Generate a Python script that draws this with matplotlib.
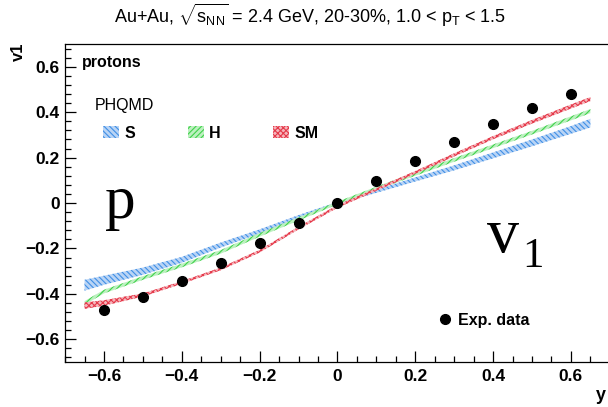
import numpy as np
import matplotlib
matplotlib.use('Agg')
import matplotlib.pyplot as plt
from matplotlib.ticker import MultipleLocator
from matplotlib.lines import Line2D

plt.rcParams['font.family'] = ['Liberation Sans', 'DejaVu Sans']
plt.rcParams['mathtext.fontset'] = 'custom'
plt.rcParams['mathtext.rm'] = 'Liberation Sans'
plt.rcParams['mathtext.it'] = 'Liberation Sans'
plt.rcParams['hatch.linewidth'] = 0.8

# Experimental data (protons, 20-30%, 1.0 < pT < 1.5)
y_data = [-0.6, -0.5, -0.4, -0.3, -0.2, -0.1, 0.0, 0.1, 0.2, 0.3, 0.4, 0.5, 0.6]
v1_data = [-0.472, -0.412, -0.342, -0.265, -0.178, -0.09, 0.0, 0.096, 0.187, 0.27, 0.35, 0.42, 0.48]
v1_err = [0.008, 0.008, 0.008, 0.008, 0.008, 0.008, 0.008, 0.01, 0.01, 0.012, 0.012, 0.012, 0.012]

# PHQMD bands
y_band = [-0.65, -0.6, -0.5, -0.4, -0.3, -0.2, -0.1, 0.0, 0.1, 0.2, 0.3, 0.4, 0.5, 0.6, 0.65]
s_mid = [-0.362, -0.34, -0.30, -0.25, -0.185, -0.125, -0.06, 0.0, 0.052, 0.104, 0.155, 0.21, 0.265, 0.322, 0.352]
s_half = [0.024, 0.02, 0.016, 0.013, 0.011, 0.009, 0.007, 0.005, 0.007, 0.009, 0.011, 0.013, 0.015, 0.017, 0.019]
h_mid = [-0.44, -0.39, -0.33, -0.275, -0.215, -0.14, -0.07, 0.0, 0.065, 0.128, 0.19, 0.25, 0.31, 0.373, 0.405]
h_half = [0.008, 0.008, 0.008, 0.008, 0.008, 0.008, 0.007, 0.006, 0.007, 0.008, 0.008, 0.008, 0.008, 0.009, 0.009]
sm_mid = [-0.452, -0.44, -0.405, -0.35, -0.29, -0.212, -0.11, -0.015, 0.06, 0.135, 0.212, 0.288, 0.358, 0.425, 0.458]
sm_half = [0.014, 0.012, 0.007, 0.006, 0.006, 0.006, 0.006, 0.006, 0.006, 0.006, 0.007, 0.007, 0.008, 0.009, 0.009]

bands = [
    ('S', s_mid, s_half, '#3f8fe6', '#b9d4f5', '\\\\\\\\\\\\'),
    ('H', h_mid, h_half, '#3fd24a', '#bdf0c0', '//////'),
    ('SM', sm_mid, sm_half, '#e5394a', '#f5b5bb', 'xxxxxx'),
]

fig = plt.figure(figsize=(6.08, 4.07), dpi=100)
ax = fig.add_axes([0.107, 0.1106, 0.896, 0.781])

handles = []
yb = np.array(y_band)
for name, mid, half, col, light, hat in bands:
    mid = np.array(mid)
    half = np.array(half)
    h = ax.fill_between(yb, mid - half, mid + half, facecolor=light, edgecolor=col,
                        hatch=hat, linewidth=0.0, label=name, zorder=2)
    handles.append(h)

ax.errorbar(y_data, v1_data, yerr=v1_err, fmt='o', color='black', markersize=7,
            elinewidth=1.0, capsize=0, zorder=5)

ax.set_xlim(-0.7, 0.7)
ax.set_ylim(-0.7, 0.7)
ax.xaxis.set_major_locator(MultipleLocator(0.2))
ax.xaxis.set_minor_locator(MultipleLocator(0.05))
ax.yaxis.set_major_locator(MultipleLocator(0.2))
ax.yaxis.set_minor_locator(MultipleLocator(0.04))
ax.tick_params(which='both', direction='in', top=False, right=False, width=0.9)
ax.tick_params(which='major', length=8, labelsize=12.5)
ax.tick_params(axis='x', which='major', pad=5)
ax.tick_params(axis='y', which='major', pad=4)
ax.tick_params(which='minor', length=4.3)
fmt = plt.FuncFormatter(lambda v, p: '0' if abs(v) < 1e-9 else f'{v:.1f}'.replace('-', '\u2212'))
ax.xaxis.set_major_formatter(fmt)
ax.yaxis.set_major_formatter(fmt)
for lab in ax.get_xticklabels() + ax.get_yticklabels():
    lab.set_fontweight('bold')
for sp in ax.spines.values():
    sp.set_linewidth(0.9)

fig.text(0.51, 0.962, r'Au+Au, $\sqrt{\mathrm{s_{NN}}}$ = 2.4 GeV, 20-30%, 1.0 < $\mathrm{p_{T}}$ < 1.5',
         ha='center', va='center', fontsize=13)
fig.text(0.03, 1 - 52 / 407, 'v1', rotation=90, ha='center', va='center',
         fontsize=12, fontweight='bold')
fig.text(0.988, 1 - 395 / 407, 'y', ha='center', va='center', fontsize=13, fontweight='bold')

ax.text(-0.657, 0.62, 'protons', ha='left', va='center', fontsize=11.5, fontweight='bold')
ax.text(-0.623, 0.43, 'PHQMD', ha='left', va='center', fontsize=11.5)

ax.text(-0.598, -0.066, 'p', fontsize=44, family='Liberation Serif', ha='left', va='baseline')
ax.text(0.385, -0.215, 'v', fontsize=46, family='Liberation Serif', ha='left', va='baseline')
ax.text(0.475, -0.281, '1', fontsize=31, family='Liberation Serif', ha='left', va='baseline')

leg1 = ax.legend(handles=handles, loc='center left', bbox_to_anchor=(0.07, 0.72), ncol=3,
                 frameon=False, prop={'weight': 'bold', 'size': 11.5}, handlelength=1.0,
                 handleheight=0.78, handletextpad=0.32, columnspacing=3.3, borderpad=0,
                 borderaxespad=0)
ax.add_artist(leg1)
dot = Line2D([], [], marker='o', color='black', linestyle='none', markersize=7)
ax.legend(handles=[dot], labels=['Exp. data'], loc='center left', bbox_to_anchor=(0.685, 0.131),
          frameon=False, prop={'weight': 'bold', 'size': 11.5}, handlelength=0.8,
          handletextpad=0.45, borderpad=0, borderaxespad=0)

fig.savefig('out.png', dpi=100)
